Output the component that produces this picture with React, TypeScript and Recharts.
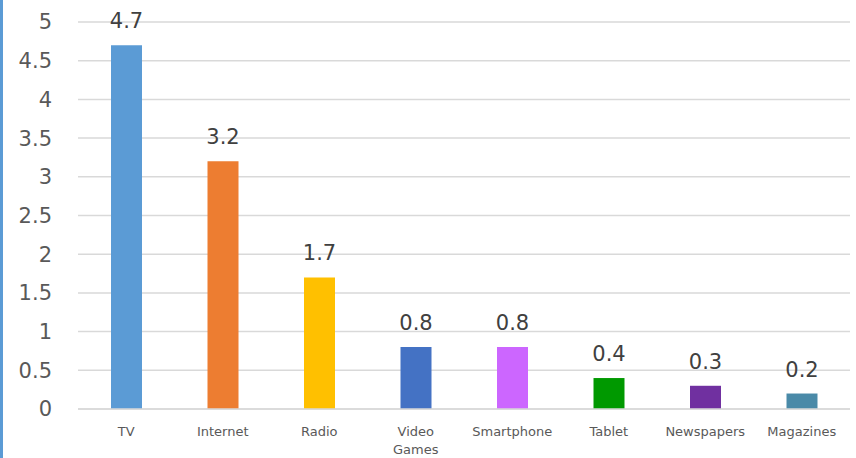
import { BarChart, Bar, XAxis, YAxis, CartesianGrid, Cell, LabelList } from 'recharts'

const categories = ['TV', 'Internet', 'Radio', 'Video Games', 'Smartphone', 'Tablet', 'Newspapers', 'Magazines']
const hours = [4.7, 3.2, 1.7, 0.8, 0.8, 0.4, 0.3, 0.2]
const barColors = ['#5b9bd5', '#ed7d31', '#ffc000', '#4472c4', '#cc66ff', '#009900', '#7030a0', '#4a8aa8']
const yTicks = [0, 0.5, 1, 1.5, 2, 2.5, 3, 3.5, 4, 4.5, 5]

const data = categories.map((name, i) => ({ name, value: hours[i] }))

const FONT = '"DejaVu Sans", sans-serif'

function CategoryTick(props: any) {
  const { x, y, payload } = props
  const lines = String(payload.value).split(' ')
  return (
    <text x={x} y={y} textAnchor="middle" fill="#595959" fontSize={13} fontFamily={FONT}>
      {lines.map((line: string, i: number) => (
        <tspan key={i} x={x} dy={i === 0 ? 17 : 18}>{line}</tspan>
      ))}
    </text>
  )
}

export default function App() {
  return (
    <div style={{ position: 'absolute', left: 0, top: 0, width: 856, height: 458, background: '#fff', borderLeft: '3px solid #5b9bd5', boxSizing: 'border-box' }}>
      <BarChart
        width={853}
        height={458}
        data={data}
        margin={{ top: 22, right: 6, left: 0, bottom: 0 }}
        barCategoryGap="0%"
      >
        <CartesianGrid vertical={false} stroke="#d9d9d9" strokeWidth={1.5} />
        <XAxis
          dataKey="name"
          interval={0}
          tickLine={false}
          axisLine={{ stroke: '#d9d9d9', strokeWidth: 1.5 }}
          tick={<CategoryTick />}
          tickMargin={4}
          height={49}
        />
        <YAxis
          domain={[0, 5]}
          ticks={yTicks}
          width={75}
          tickLine={false}
          axisLine={false}
          tickSize={6}
          tickMargin={20}
          tick={{ fontSize: 21, fill: '#595959', fontFamily: FONT }}
        />
        <Bar dataKey="value" barSize={31} isAnimationActive={false}>
          {data.map((d, i) => (
            <Cell key={d.name} fill={barColors[i]} />
          ))}
          <LabelList dataKey="value" position="top" offset={17} fill="#404040" fontSize={21} fontFamily={FONT} />
        </Bar>
      </BarChart>
    </div>
  )
}
